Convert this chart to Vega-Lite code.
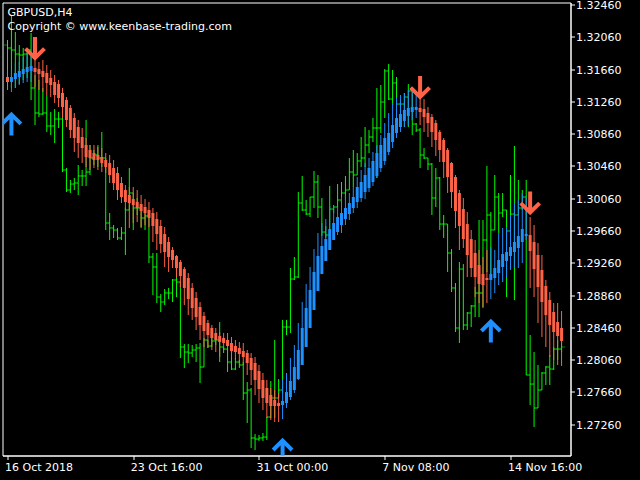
{
"$schema": "https://vega.github.io/schema/vega-lite/v6.json",
"width": 568, "height": 453,
"autosize": {"type": "none"},
"padding": {"left": 2.5, "top": 2.5, "right": 69.5, "bottom": 24.5},
"background": "#000000",
"title": {"text": "GBPUSD,H4", "subtitle": "Copyright © www.keenbase-trading.com", "anchor": "start", "frame": "group", "offset": -32, "dx": 5, "color": "#FFFFFF", "subtitleColor": "#FFFFFF", "font": "DejaVu Sans", "subtitleFont": "DejaVu Sans", "fontSize": 11, "subtitleFontSize": 11, "fontWeight": "normal", "subtitlePadding": 3},
"datasets": {
"bars": [
{"i":0,"o":1.3196,"h":1.32022,"l":1.31526,"c":1.31923,"ho":1.31563,"hc":1.31501,"hh":1.3165,"hl":1.31402,"d":"dn"},
{"i":1,"o":1.31923,"h":1.32332,"l":1.31427,"c":1.31898,"ho":1.31501,"hc":1.31563,"hh":1.3165,"hl":1.31377,"d":"up"},
{"i":2,"o":1.31898,"h":1.32121,"l":1.31427,"c":1.31848,"ho":1.31538,"hc":1.31613,"hh":1.31737,"hl":1.31427,"d":"up"},
{"i":3,"o":1.31848,"h":1.3196,"l":1.31476,"c":1.31836,"ho":1.31563,"hc":1.31638,"hh":1.31749,"hl":1.31464,"d":"up"},
{"i":4,"o":1.31836,"h":1.31923,"l":1.31526,"c":1.31848,"ho":1.316,"hc":1.31662,"hh":1.31811,"hl":1.31489,"d":"up"},
{"i":5,"o":1.31848,"h":1.31923,"l":1.31551,"c":1.31898,"ho":1.31625,"hc":1.31687,"hh":1.31861,"hl":1.31501,"d":"up"},
{"i":6,"o":1.31898,"h":1.32109,"l":1.31278,"c":1.31427,"ho":1.31638,"hc":1.317,"hh":1.31861,"hl":1.31501,"d":"up"},
{"i":7,"o":1.31427,"h":1.31588,"l":1.30968,"c":1.31117,"ho":1.31675,"hc":1.31625,"hh":1.31799,"hl":1.31439,"d":"dn"},
{"i":8,"o":1.31117,"h":1.31526,"l":1.31067,"c":1.31104,"ho":1.31662,"hc":1.316,"hh":1.31749,"hl":1.31402,"d":"dn"},
{"i":9,"o":1.31104,"h":1.31427,"l":1.31092,"c":1.31117,"ho":1.31638,"hc":1.31563,"hh":1.31774,"hl":1.31377,"d":"dn"},
{"i":10,"o":1.31117,"h":1.3134,"l":1.30881,"c":1.30956,"ho":1.31613,"hc":1.31489,"hh":1.31712,"hl":1.3134,"d":"dn"},
{"i":11,"o":1.30956,"h":1.31129,"l":1.30844,"c":1.30956,"ho":1.31551,"hc":1.31464,"hh":1.3165,"hl":1.31315,"d":"dn"},
{"i":12,"o":1.30956,"h":1.31166,"l":1.30745,"c":1.31042,"ho":1.31501,"hc":1.3134,"hh":1.31588,"hl":1.31241,"d":"dn"},
{"i":13,"o":1.31042,"h":1.31129,"l":1.30931,"c":1.31042,"ho":1.31476,"hc":1.31303,"hh":1.31526,"hl":1.31191,"d":"dn"},
{"i":14,"o":1.31042,"h":1.31154,"l":1.30385,"c":1.3041,"ho":1.31365,"hc":1.31191,"hh":1.31427,"hl":1.31067,"d":"dn"},
{"i":15,"o":1.3041,"h":1.30435,"l":1.30137,"c":1.30162,"ho":1.31278,"hc":1.3103,"hh":1.31315,"hl":1.30943,"d":"dn"},
{"i":16,"o":1.30162,"h":1.30286,"l":1.30125,"c":1.30236,"ho":1.31179,"hc":1.30906,"hh":1.31216,"hl":1.30807,"d":"dn"},
{"i":17,"o":1.30236,"h":1.30311,"l":1.30162,"c":1.30249,"ho":1.31055,"hc":1.30807,"hh":1.31117,"hl":1.30633,"d":"dn"},
{"i":18,"o":1.30249,"h":1.30472,"l":1.301,"c":1.30336,"ho":1.30943,"hc":1.30745,"hh":1.3103,"hl":1.30559,"d":"dn"},
{"i":19,"o":1.30336,"h":1.3041,"l":1.30212,"c":1.30336,"ho":1.30819,"hc":1.30683,"hh":1.30931,"hl":1.30497,"d":"dn"},
{"i":20,"o":1.30336,"h":1.3103,"l":1.30212,"c":1.30385,"ho":1.3072,"hc":1.30571,"hh":1.30807,"hl":1.30447,"d":"dn"},
{"i":21,"o":1.30385,"h":1.3072,"l":1.30348,"c":1.30559,"ho":1.30658,"hc":1.30559,"hh":1.3072,"hl":1.3041,"d":"dn"},
{"i":22,"o":1.30559,"h":1.30658,"l":1.30472,"c":1.30596,"ho":1.30621,"hc":1.30534,"hh":1.3072,"hl":1.30435,"d":"dn"},
{"i":23,"o":1.30596,"h":1.3072,"l":1.30447,"c":1.30559,"ho":1.30596,"hc":1.30534,"hh":1.30695,"hl":1.3041,"d":"dn"},
{"i":24,"o":1.30559,"h":1.30881,"l":1.30447,"c":1.30559,"ho":1.30571,"hc":1.30497,"hh":1.30683,"hl":1.30385,"d":"dn"},
{"i":25,"o":1.30559,"h":1.30559,"l":1.29666,"c":1.29753,"ho":1.30534,"hc":1.30447,"hh":1.30621,"hl":1.30373,"d":"dn"},
{"i":26,"o":1.29753,"h":1.29877,"l":1.29542,"c":1.29691,"ho":1.30497,"hc":1.30348,"hh":1.30596,"hl":1.30249,"d":"dn"},
{"i":27,"o":1.29691,"h":1.29728,"l":1.29567,"c":1.29666,"ho":1.30435,"hc":1.30249,"hh":1.30534,"hl":1.30162,"d":"dn"},
{"i":28,"o":1.29666,"h":1.29691,"l":1.29542,"c":1.29567,"ho":1.30373,"hc":1.30162,"hh":1.30447,"hl":1.30038,"d":"dn"},
{"i":29,"o":1.29567,"h":1.29703,"l":1.29542,"c":1.29629,"ho":1.30249,"hc":1.30075,"hh":1.30323,"hl":1.30001,"d":"dn"},
{"i":30,"o":1.29629,"h":1.29939,"l":1.29356,"c":1.29914,"ho":1.30162,"hc":1.30013,"hh":1.30224,"hl":1.29914,"d":"dn"},
{"i":31,"o":1.29914,"h":1.30435,"l":1.29914,"c":1.30125,"ho":1.301,"hc":1.30001,"hh":1.30199,"hl":1.29691,"d":"dn"},
{"i":32,"o":1.30125,"h":1.30125,"l":1.29666,"c":1.29939,"ho":1.3005,"hc":1.29976,"hh":1.30199,"hl":1.29753,"d":"dn"},
{"i":33,"o":1.29939,"h":1.30063,"l":1.29852,"c":1.29939,"ho":1.30013,"hc":1.29939,"hh":1.30162,"hl":1.29765,"d":"dn"},
{"i":34,"o":1.29939,"h":1.29939,"l":1.29691,"c":1.29815,"ho":1.29988,"hc":1.29902,"hh":1.301,"hl":1.29703,"d":"dn"},
{"i":35,"o":1.29815,"h":1.29889,"l":1.29666,"c":1.2984,"ho":1.29951,"hc":1.29877,"hh":1.3005,"hl":1.29728,"d":"dn"},
{"i":36,"o":1.2984,"h":1.2984,"l":1.29257,"c":1.29331,"ho":1.29914,"hc":1.29815,"hh":1.30013,"hl":1.29703,"d":"dn"},
{"i":37,"o":1.29331,"h":1.29381,"l":1.2886,"c":1.29207,"ho":1.29877,"hc":1.29716,"hh":1.29939,"hl":1.29517,"d":"dn"},
{"i":38,"o":1.29207,"h":1.29381,"l":1.28761,"c":1.28835,"ho":1.29802,"hc":1.29616,"hh":1.29889,"hl":1.29418,"d":"dn"},
{"i":39,"o":1.28835,"h":1.28872,"l":1.28649,"c":1.28773,"ho":1.29716,"hc":1.29492,"hh":1.2979,"hl":1.29381,"d":"dn"},
{"i":40,"o":1.28773,"h":1.28934,"l":1.28736,"c":1.28885,"ho":1.29616,"hc":1.29393,"hh":1.29703,"hl":1.29207,"d":"dn"},
{"i":41,"o":1.28885,"h":1.28947,"l":1.2881,"c":1.28885,"ho":1.29517,"hc":1.29331,"hh":1.29579,"hl":1.29145,"d":"dn"},
{"i":42,"o":1.28885,"h":1.29058,"l":1.28773,"c":1.29046,"ho":1.29418,"hc":1.29294,"hh":1.29455,"hl":1.29195,"d":"dn"},
{"i":43,"o":1.29046,"h":1.29331,"l":1.28835,"c":1.29021,"ho":1.29344,"hc":1.29195,"hh":1.29356,"hl":1.29083,"d":"dn"},
{"i":44,"o":1.29021,"h":1.29021,"l":1.28079,"c":1.28215,"ho":1.29269,"hc":1.29096,"hh":1.29294,"hl":1.28959,"d":"dn"},
{"i":45,"o":1.28215,"h":1.28252,"l":1.27955,"c":1.28153,"ho":1.29182,"hc":1.28947,"hh":1.29207,"hl":1.28736,"d":"dn"},
{"i":46,"o":1.28153,"h":1.28252,"l":1.28017,"c":1.28141,"ho":1.29071,"hc":1.2881,"hh":1.29133,"hl":1.28612,"d":"dn"},
{"i":47,"o":1.28141,"h":1.2824,"l":1.28091,"c":1.28178,"ho":1.28947,"hc":1.28699,"hh":1.29009,"hl":1.2855,"d":"dn"},
{"i":48,"o":1.28178,"h":1.28252,"l":1.28029,"c":1.28203,"ho":1.28823,"hc":1.28587,"hh":1.28897,"hl":1.28426,"d":"dn"},
{"i":49,"o":1.28203,"h":1.28265,"l":1.27769,"c":1.27967,"ho":1.28711,"hc":1.28488,"hh":1.28773,"hl":1.28302,"d":"dn"},
{"i":50,"o":1.27967,"h":1.28327,"l":1.27967,"c":1.28302,"ho":1.286,"hc":1.28414,"hh":1.28649,"hl":1.28215,"d":"dn"},
{"i":51,"o":1.28302,"h":1.28302,"l":1.28203,"c":1.28228,"ho":1.28513,"hc":1.28364,"hh":1.2855,"hl":1.28203,"d":"dn"},
{"i":52,"o":1.28228,"h":1.28364,"l":1.28215,"c":1.2829,"ho":1.28451,"hc":1.28327,"hh":1.28488,"hl":1.28178,"d":"dn"},
{"i":53,"o":1.2829,"h":1.28352,"l":1.2824,"c":1.28302,"ho":1.28389,"hc":1.28302,"hh":1.28451,"hl":1.28153,"d":"dn"},
{"i":54,"o":1.28302,"h":1.28525,"l":1.28029,"c":1.28215,"ho":1.28352,"hc":1.28277,"hh":1.28401,"hl":1.28091,"d":"dn"},
{"i":55,"o":1.28215,"h":1.28215,"l":1.28141,"c":1.2819,"ho":1.28327,"hc":1.28265,"hh":1.28389,"hl":1.28178,"d":"dn"},
{"i":56,"o":1.2819,"h":1.2819,"l":1.27905,"c":1.28029,"ho":1.28302,"hc":1.28228,"hh":1.28389,"hl":1.28141,"d":"dn"},
{"i":57,"o":1.28029,"h":1.28091,"l":1.2793,"c":1.27942,"ho":1.28265,"hc":1.28166,"hh":1.28339,"hl":1.28091,"d":"dn"},
{"i":58,"o":1.27942,"h":1.28079,"l":1.2793,"c":1.28029,"ho":1.28228,"hc":1.28153,"hh":1.28302,"hl":1.28054,"d":"dn"},
{"i":59,"o":1.28029,"h":1.28054,"l":1.27955,"c":1.27992,"ho":1.28203,"hc":1.28128,"hh":1.28277,"hl":1.28017,"d":"dn"},
{"i":60,"o":1.27992,"h":1.28029,"l":1.27558,"c":1.27645,"ho":1.28166,"hc":1.28091,"hh":1.28265,"hl":1.27992,"d":"dn"},
{"i":61,"o":1.27645,"h":1.27781,"l":1.27273,"c":1.27682,"ho":1.28141,"hc":1.28017,"hh":1.28178,"hl":1.27868,"d":"dn"},
{"i":62,"o":1.27682,"h":1.27707,"l":1.26963,"c":1.27087,"ho":1.28079,"hc":1.2793,"hh":1.28141,"hl":1.27744,"d":"dn"},
{"i":63,"o":1.27087,"h":1.27136,"l":1.26938,"c":1.27074,"ho":1.28017,"hc":1.27806,"hh":1.28091,"hl":1.2762,"d":"dn"},
{"i":64,"o":1.27074,"h":1.27124,"l":1.2705,"c":1.27087,"ho":1.27918,"hc":1.27694,"hh":1.27992,"hl":1.27521,"d":"dn"},
{"i":65,"o":1.27087,"h":1.27149,"l":1.2705,"c":1.27099,"ho":1.27806,"hc":1.27583,"hh":1.27893,"hl":1.27434,"d":"dn"},
{"i":66,"o":1.27099,"h":1.27347,"l":1.27062,"c":1.27347,"ho":1.27707,"hc":1.27521,"hh":1.27806,"hl":1.27335,"d":"dn"},
{"i":67,"o":1.27347,"h":1.27794,"l":1.27335,"c":1.27583,"ho":1.2762,"hc":1.27484,"hh":1.27707,"hl":1.2731,"d":"dn"},
{"i":68,"o":1.27583,"h":1.28302,"l":1.27335,"c":1.27583,"ho":1.27558,"hc":1.27484,"hh":1.27682,"hl":1.27285,"d":"dn"},
{"i":69,"o":1.27583,"h":1.27818,"l":1.27583,"c":1.27682,"ho":1.27521,"hc":1.27484,"hh":1.27645,"hl":1.27285,"d":"dn"},
{"i":70,"o":1.27682,"h":1.2855,"l":1.27645,"c":1.28463,"ho":1.27496,"hc":1.27546,"hh":1.27806,"hl":1.27322,"d":"up"},
{"i":71,"o":1.28463,"h":1.2855,"l":1.28364,"c":1.28463,"ho":1.27521,"hc":1.27657,"hh":1.27893,"hl":1.27459,"d":"up"},
{"i":72,"o":1.28463,"h":1.29195,"l":1.28389,"c":1.29058,"ho":1.27595,"hc":1.27794,"hh":1.28079,"hl":1.27558,"d":"up"},
{"i":73,"o":1.29058,"h":1.29331,"l":1.29046,"c":1.29083,"ho":1.27682,"hc":1.27967,"hh":1.2824,"hl":1.27645,"d":"up"},
{"i":74,"o":1.29083,"h":1.30137,"l":1.29071,"c":1.30001,"ho":1.27818,"hc":1.28178,"hh":1.28513,"hl":1.27806,"d":"up"},
{"i":75,"o":1.30001,"h":1.30336,"l":1.29902,"c":1.29914,"ho":1.27992,"hc":1.28451,"hh":1.28773,"hl":1.27992,"d":"up"},
{"i":76,"o":1.29914,"h":1.30038,"l":1.29852,"c":1.29864,"ho":1.28215,"hc":1.28699,"hh":1.28996,"hl":1.28215,"d":"up"},
{"i":77,"o":1.29864,"h":1.30075,"l":1.29827,"c":1.30075,"ho":1.28451,"hc":1.28922,"hh":1.29207,"hl":1.28451,"d":"up"},
{"i":78,"o":1.30075,"h":1.30398,"l":1.29939,"c":1.30261,"ho":1.28674,"hc":1.29145,"hh":1.2943,"hl":1.28674,"d":"up"},
{"i":79,"o":1.30261,"h":1.30348,"l":1.29815,"c":1.29951,"ho":1.2891,"hc":1.29344,"hh":1.29629,"hl":1.2891,"d":"up"},
{"i":80,"o":1.29951,"h":1.30063,"l":1.29592,"c":1.29641,"ho":1.2912,"hc":1.29468,"hh":1.29753,"hl":1.2912,"d":"up"},
{"i":81,"o":1.29641,"h":1.29716,"l":1.29567,"c":1.29604,"ho":1.29282,"hc":1.29554,"hh":1.29802,"hl":1.29282,"d":"up"},
{"i":82,"o":1.29604,"h":1.30212,"l":1.29604,"c":1.29926,"ho":1.29418,"hc":1.29678,"hh":1.29964,"hl":1.29418,"d":"up"},
{"i":83,"o":1.29926,"h":1.29976,"l":1.29877,"c":1.29951,"ho":1.29542,"hc":1.29753,"hh":1.29964,"hl":1.29542,"d":"up"},
{"i":84,"o":1.29951,"h":1.30236,"l":1.29951,"c":1.30038,"ho":1.29641,"hc":1.29827,"hh":1.29951,"hl":1.29604,"d":"up"},
{"i":85,"o":1.30038,"h":1.30261,"l":1.29629,"c":1.30125,"ho":1.29728,"hc":1.29877,"hh":1.30075,"hl":1.29629,"d":"up"},
{"i":86,"o":1.30125,"h":1.30336,"l":1.30038,"c":1.30162,"ho":1.29802,"hc":1.29939,"hh":1.301,"hl":1.29728,"d":"up"},
{"i":87,"o":1.30162,"h":1.30559,"l":1.30162,"c":1.30385,"ho":1.29864,"hc":1.30001,"hh":1.30125,"hl":1.2979,"d":"up"},
{"i":88,"o":1.30385,"h":1.30658,"l":1.30199,"c":1.30348,"ho":1.29939,"hc":1.30075,"hh":1.30199,"hl":1.29877,"d":"up"},
{"i":89,"o":1.30348,"h":1.30621,"l":1.30348,"c":1.30522,"ho":1.30013,"hc":1.30199,"hh":1.30323,"hl":1.29939,"d":"up"},
{"i":90,"o":1.30522,"h":1.30819,"l":1.30447,"c":1.30559,"ho":1.30063,"hc":1.30261,"hh":1.3041,"hl":1.30013,"d":"up"},
{"i":91,"o":1.30559,"h":1.30943,"l":1.30447,"c":1.3072,"ho":1.30137,"hc":1.30348,"hh":1.30497,"hl":1.3005,"d":"up"},
{"i":92,"o":1.3072,"h":1.30906,"l":1.30621,"c":1.30819,"ho":1.30187,"hc":1.30435,"hh":1.30559,"hl":1.30137,"d":"up"},
{"i":93,"o":1.30819,"h":1.31055,"l":1.30757,"c":1.30931,"ho":1.30261,"hc":1.30522,"hh":1.30633,"hl":1.30212,"d":"up"},
{"i":94,"o":1.30931,"h":1.31427,"l":1.30311,"c":1.30931,"ho":1.30336,"hc":1.30621,"hh":1.3072,"hl":1.30311,"d":"up"},
{"i":95,"o":1.30931,"h":1.31464,"l":1.30869,"c":1.31253,"ho":1.30435,"hc":1.3072,"hh":1.30844,"hl":1.30385,"d":"up"},
{"i":96,"o":1.31253,"h":1.31662,"l":1.31055,"c":1.31638,"ho":1.30522,"hc":1.30807,"hh":1.30993,"hl":1.30472,"d":"up"},
{"i":97,"o":1.31638,"h":1.31724,"l":1.31278,"c":1.3129,"ho":1.30633,"hc":1.30869,"hh":1.31117,"hl":1.30596,"d":"up"},
{"i":98,"o":1.3129,"h":1.3165,"l":1.31216,"c":1.31489,"ho":1.30757,"hc":1.30968,"hh":1.31241,"hl":1.30683,"d":"up"},
{"i":99,"o":1.31489,"h":1.31563,"l":1.31216,"c":1.31228,"ho":1.30869,"hc":1.31055,"hh":1.31303,"hl":1.30807,"d":"up"},
{"i":100,"o":1.31228,"h":1.31278,"l":1.30943,"c":1.31228,"ho":1.30943,"hc":1.31104,"hh":1.3134,"hl":1.30881,"d":"up"},
{"i":101,"o":1.31228,"h":1.31365,"l":1.30943,"c":1.31315,"ho":1.31018,"hc":1.31154,"hh":1.31365,"hl":1.30943,"d":"up"},
{"i":102,"o":1.31315,"h":1.31476,"l":1.30943,"c":1.3139,"ho":1.3108,"hc":1.31179,"hh":1.31402,"hl":1.30968,"d":"up"},
{"i":103,"o":1.3139,"h":1.3139,"l":1.30844,"c":1.3098,"ho":1.31129,"hc":1.31191,"hh":1.31377,"hl":1.3103,"d":"up"},
{"i":104,"o":1.3098,"h":1.30993,"l":1.30881,"c":1.30906,"ho":1.31154,"hc":1.31191,"hh":1.31365,"hl":1.31055,"d":"up"},
{"i":105,"o":1.30906,"h":1.30931,"l":1.30435,"c":1.30596,"ho":1.31179,"hc":1.31129,"hh":1.3134,"hl":1.30968,"d":"dn"},
{"i":106,"o":1.30596,"h":1.30683,"l":1.30546,"c":1.30559,"ho":1.31166,"hc":1.31067,"hh":1.3129,"hl":1.30881,"d":"dn"},
{"i":107,"o":1.30559,"h":1.30559,"l":1.3041,"c":1.30484,"ho":1.31117,"hc":1.30993,"hh":1.31191,"hl":1.30819,"d":"dn"},
{"i":108,"o":1.30484,"h":1.30497,"l":1.29852,"c":1.30063,"ho":1.31067,"hc":1.30881,"hh":1.31104,"hl":1.30695,"d":"dn"},
{"i":109,"o":1.30063,"h":1.30435,"l":1.29951,"c":1.30311,"ho":1.30993,"hc":1.30782,"hh":1.3103,"hl":1.30584,"d":"dn"},
{"i":110,"o":1.30311,"h":1.30323,"l":1.29666,"c":1.2974,"ho":1.30881,"hc":1.30658,"hh":1.30906,"hl":1.30509,"d":"dn"},
{"i":111,"o":1.2974,"h":1.29852,"l":1.29567,"c":1.2974,"ho":1.30782,"hc":1.30509,"hh":1.30807,"hl":1.30311,"d":"dn"},
{"i":112,"o":1.2974,"h":1.2974,"l":1.29145,"c":1.29381,"ho":1.30658,"hc":1.30323,"hh":1.30683,"hl":1.30125,"d":"dn"},
{"i":113,"o":1.29381,"h":1.2943,"l":1.28897,"c":1.28947,"ho":1.30497,"hc":1.30137,"hh":1.30509,"hl":1.29939,"d":"dn"},
{"i":114,"o":1.28947,"h":1.29009,"l":1.28401,"c":1.28451,"ho":1.30323,"hc":1.29902,"hh":1.30348,"hl":1.29691,"d":"dn"},
{"i":115,"o":1.28451,"h":1.29269,"l":1.28265,"c":1.29182,"ho":1.30125,"hc":1.29716,"hh":1.30162,"hl":1.29418,"d":"dn"},
{"i":116,"o":1.29182,"h":1.29244,"l":1.28426,"c":1.28488,"ho":1.29926,"hc":1.29554,"hh":1.30063,"hl":1.29443,"d":"dn"},
{"i":117,"o":1.28488,"h":1.28649,"l":1.28426,"c":1.28637,"ho":1.2974,"hc":1.29356,"hh":1.29889,"hl":1.29083,"d":"dn"},
{"i":118,"o":1.28637,"h":1.28736,"l":1.28463,"c":1.28724,"ho":1.29554,"hc":1.29195,"hh":1.29666,"hl":1.29083,"d":"dn"},
{"i":119,"o":1.28724,"h":1.28959,"l":1.28587,"c":1.28885,"ho":1.29381,"hc":1.29083,"hh":1.29542,"hl":1.28835,"d":"dn"},
{"i":120,"o":1.28885,"h":1.2979,"l":1.28587,"c":1.28885,"ho":1.29232,"hc":1.28996,"hh":1.29418,"hl":1.28761,"d":"dn"},
{"i":121,"o":1.28885,"h":1.2979,"l":1.28711,"c":1.29542,"ho":1.2912,"hc":1.28984,"hh":1.29331,"hl":1.28699,"d":"dn"},
{"i":122,"o":1.29542,"h":1.3046,"l":1.29145,"c":1.29852,"ho":1.29071,"hc":1.29046,"hh":1.29418,"hl":1.28761,"d":"dn"},
{"i":123,"o":1.29852,"h":1.29889,"l":1.29083,"c":1.29666,"ho":1.29046,"hc":1.2912,"hh":1.29455,"hl":1.2881,"d":"up"},
{"i":124,"o":1.29666,"h":1.30348,"l":1.29666,"c":1.30075,"ho":1.29071,"hc":1.29195,"hh":1.29418,"hl":1.28885,"d":"up"},
{"i":125,"o":1.30075,"h":1.30125,"l":1.29629,"c":1.29877,"ho":1.29133,"hc":1.29294,"hh":1.29629,"hl":1.28984,"d":"up"},
{"i":126,"o":1.29877,"h":1.30125,"l":1.29827,"c":1.29914,"ho":1.29207,"hc":1.29368,"hh":1.29691,"hl":1.29021,"d":"up"},
{"i":127,"o":1.29914,"h":1.29914,"l":1.28835,"c":1.29654,"ho":1.29282,"hc":1.29393,"hh":1.29703,"hl":1.29083,"d":"up"},
{"i":128,"o":1.29654,"h":1.30348,"l":1.29654,"c":1.29864,"ho":1.29344,"hc":1.29455,"hh":1.29852,"hl":1.2917,"d":"up"},
{"i":129,"o":1.29864,"h":1.30708,"l":1.28798,"c":1.29852,"ho":1.29393,"hc":1.29517,"hh":1.30001,"hl":1.29195,"d":"up"},
{"i":130,"o":1.29852,"h":1.30286,"l":1.29852,"c":1.29939,"ho":1.29443,"hc":1.29592,"hh":1.30038,"hl":1.29195,"d":"up"},
{"i":131,"o":1.29939,"h":1.30162,"l":1.29914,"c":1.30075,"ho":1.29517,"hc":1.29678,"hh":1.30125,"hl":1.29257,"d":"up"},
{"i":132,"o":1.30075,"h":1.30286,"l":1.27868,"c":1.27868,"ho":1.29592,"hc":1.29616,"hh":1.30063,"hl":1.29542,"d":"up"},
{"i":133,"o":1.27868,"h":1.28364,"l":1.27496,"c":1.27756,"ho":1.29604,"hc":1.29406,"hh":1.29827,"hl":1.28947,"d":"dn"},
{"i":134,"o":1.27756,"h":1.28153,"l":1.27223,"c":1.27459,"ho":1.29517,"hc":1.29182,"hh":1.29728,"hl":1.28835,"d":"dn"},
{"i":135,"o":1.27459,"h":1.27992,"l":1.27459,"c":1.27682,"ho":1.29356,"hc":1.28959,"hh":1.29505,"hl":1.28513,"d":"dn"},
{"i":136,"o":1.27682,"h":1.27905,"l":1.27682,"c":1.27893,"ho":1.2917,"hc":1.28773,"hh":1.29356,"hl":1.28339,"d":"dn"},
{"i":137,"o":1.27893,"h":1.2798,"l":1.27744,"c":1.27967,"ho":1.28972,"hc":1.28612,"hh":1.29046,"hl":1.28215,"d":"dn"},
{"i":138,"o":1.27967,"h":1.28116,"l":1.27744,"c":1.27942,"ho":1.28798,"hc":1.28488,"hh":1.28897,"hl":1.28091,"d":"dn"},
{"i":139,"o":1.27942,"h":1.28215,"l":1.2793,"c":1.2819,"ho":1.28649,"hc":1.28401,"hh":1.28761,"hl":1.28054,"d":"dn"},
{"i":140,"o":1.2819,"h":1.28302,"l":1.28054,"c":1.2819,"ho":1.28525,"hc":1.28352,"hh":1.28761,"hl":1.27992,"d":"dn"},
{"i":141,"o":1.2819,"h":1.28277,"l":1.28153,"c":1.28215,"ho":1.28451,"hc":1.2829,"hh":1.28662,"hl":1.2798,"d":"dn"}
],
"arrows": [
{"i":1,"p":1.30968,"d":"up"},
{"i":7,"p":1.31929,"d":"dn"},
{"i":70,"p":1.26925,"d":"up"},
{"i":105,"p":1.31445,"d":"dn"},
{"i":123,"p":1.28401,"d":"up"},
{"i":133,"p":1.30013,"d":"dn"}
]
},
"resolve": {"axis": {"y": "independent"}},
"encoding": {
"x": {"field": "i", "type": "quantitative", "scale": {"domain": [0, 142], "nice": false, "zero": false},
"axis": {"title": null, "orient": "bottom", "values": [0, 32, 64, 96, 128], "labelExpr": "datum.value == 0 ? '16 Oct 2018' : datum.value == 32 ? '23 Oct 16:00' : datum.value == 64 ? '31 Oct 00:00' : datum.value == 96 ? '7 Nov 08:00' : '14 Nov 16:00'", "labelAlign": "left", "labelBaseline": "top", "labelPadding": 2, "labelOffset": -3, "labelFlush": false, "labelOverlap": false, "labelBound": false, "grid": false, "tickSize": 4, "domainColor": "#FFFFFF", "tickColor": "#FFFFFF", "labelColor": "#FFFFFF", "labelFont": "DejaVu Sans", "labelFontSize": 11}}
},
"layer": [
{
"data": {"name": "bars"},
"mark": {"type": "rule", "color": "#00FF00", "strokeWidth": 1},
"encoding": {
"y": {"field": "h", "type": "quantitative", "scale": {"domain": [1.2687, 1.32487], "nice": false, "zero": false},
"axis": {"title": null, "orient": "right", "values": [1.2726, 1.2766, 1.2806, 1.2846, 1.2886, 1.2926, 1.2966, 1.3006, 1.3046, 1.3086, 1.3126, 1.3166, 1.3206, 1.3246], "format": ".5f", "labelBaseline": "middle", "labelPadding": 1, "labelOffset": 1, "labelFlush": false, "labelOverlap": false, "labelBound": false, "labelSeparation": 0, "grid": false, "tickSize": 4, "domainColor": "#FFFFFF", "tickColor": "#FFFFFF", "labelColor": "#FFFFFF", "labelFont": "DejaVu Sans", "labelFontSize": 11}},
"y2": {"field": "l"}
}
},
{
"data": {"name": "bars"},
"mark": {"type": "rule", "color": "#00FF00", "strokeWidth": 1, "strokeDash": [1, 1], "xOffset": -3, "x2Offset": 0},
"encoding": {
"x2": {"field": "i"},
"y": {"field": "o", "type": "quantitative", "axis": null}
}
},
{
"data": {"name": "bars"},
"mark": {"type": "rule", "color": "#00FF00", "strokeWidth": 1, "strokeDash": [1, 1], "xOffset": 0, "x2Offset": 3},
"encoding": {
"x2": {"field": "i"},
"y": {"field": "c", "type": "quantitative", "axis": null}
}
},
{
"data": {"name": "bars"},
"mark": {"type": "rule", "strokeWidth": 1},
"encoding": {
"y": {"field": "hh", "type": "quantitative", "axis": null},
"y2": {"field": "hl"},
"color": {"field": "d", "type": "nominal", "scale": {"domain": ["up", "dn"], "range": ["#1E90FF", "#FF6347"]}, "legend": null}
}
},
{
"data": {"name": "bars"},
"mark": {"type": "bar", "size": 3},
"encoding": {
"y": {"field": "ho", "type": "quantitative", "axis": null},
"y2": {"field": "hc"},
"color": {"field": "d", "type": "nominal", "legend": null}
}
},
{
"data": {"name": "arrows"},
"mark": {"type": "point", "size": 441, "filled": false, "strokeWidth": 4, "opacity": 1, "clip": true},
"encoding": {
"y": {"field": "p", "type": "quantitative", "axis": null},
"color": {"field": "d", "type": "nominal", "legend": null},
"shape": {"field": "d", "type": "nominal", "scale": {"domain": ["up", "dn"], "range": ["M0,1L0,-1M-0.9,-0.1L0,-1L0.9,-0.1", "M0,-1L0,1M-0.9,0.1L0,1L0.9,0.1"]}, "legend": null}
}
}
],
"config": {"view": {"stroke": "#FFFFFF", "strokeWidth": 1}, "axis": {"labelOverlap": false}}
}
